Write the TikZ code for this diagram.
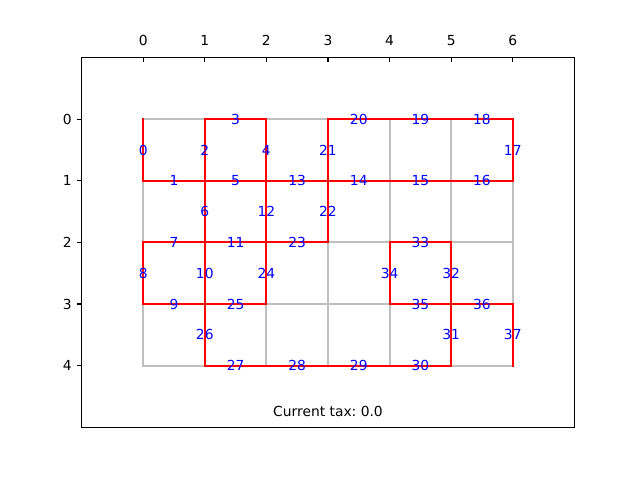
\documentclass[tikz,border=0pt]{standalone}
\usepackage{fontspec}
\setmainfont{DejaVu Sans}
\usetikzlibrary{calc}
\definecolor{silvergray}{HTML}{BFBFBF}
\begin{document}
\begin{tikzpicture}[
    x=0.616in, y=-0.616in,
    gridline/.style={draw=silvergray, line width=1.5pt, line cap=rect},
    cut/.style={draw=red, line width=1.5pt, line cap=rect},
    edgelabel/.style={text=blue, inner sep=0pt, font=\fontsize{10}{12}\selectfont},
    ticklabel/.style={inner sep=0pt, font=\fontsize{10}{12}\selectfont},
    spine/.style={draw=black, line width=0.8pt},
]
\useasboundingbox (-2.32468,-1.93506) rectangle (8.06494,5.85714);

% Grid points
\foreach \x in {0,...,6}{
  \foreach \y in {0,...,4}{
    \coordinate (p\x\y) at (\x,\y);
  }
}

% Background grid
\foreach \x in {0,...,6}{
  \draw[gridline] (p\x0) -- (p\x4);
}
\foreach \y in {0,...,4}{
  \draw[gridline] (p0\y) -- (p6\y);
}

% Cut edges with their numbers
\foreach \n/\a/\b in {0/00/01, 1/01/11, 2/10/11, 3/10/20, 4/20/21, 5/11/21,
    6/11/12, 7/02/12, 8/02/03, 9/03/13, 10/12/13, 11/12/22, 12/21/22,
    13/21/31, 14/31/41, 15/41/51, 16/51/61, 17/60/61, 18/50/60, 19/40/50,
    20/30/40, 21/30/31, 22/31/32, 23/22/32, 24/22/23, 25/13/23, 26/13/14,
    27/14/24, 28/24/34, 29/34/44, 30/44/54, 31/53/54, 32/52/53, 33/42/52,
    34/42/43, 35/43/53, 36/53/63, 37/63/64}{
  \draw[cut] (p\a) -- (p\b);
}
\foreach \n/\a/\b in {0/00/01, 1/01/11, 2/10/11, 3/10/20, 4/20/21, 5/11/21,
    6/11/12, 7/02/12, 8/02/03, 9/03/13, 10/12/13, 11/12/22, 12/21/22,
    13/21/31, 14/31/41, 15/41/51, 16/51/61, 17/60/61, 18/50/60, 19/40/50,
    20/30/40, 21/30/31, 22/31/32, 23/22/32, 24/22/23, 25/13/23, 26/13/14,
    27/14/24, 28/24/34, 29/34/44, 30/44/54, 31/53/54, 32/52/53, 33/42/52,
    34/42/43, 35/43/53, 36/53/63, 37/63/64}{
  \node[edgelabel] (l\n) at ($(p\a)!0.5!(p\b)$) {\n};
}

% Axes frame and ticks
\coordinate (frameNW) at (-1,-1);
\coordinate (frameSE) at (7,5);
\draw[spine] (frameNW) rectangle (frameSE);
\foreach \x in {0,...,6}{
  \coordinate (tx\x) at (\x,-1);
  \draw[spine] (tx\x) -- ++(0,-3.5pt);
  \node[ticklabel, anchor=base] (xt\x) at ([yshift=9pt]tx\x) {\x};
}
\foreach \y in {0,...,4}{
  \coordinate (ty\y) at (-1,\y);
  \draw[spine] (ty\y) -- ++(-3.5pt,0);
  \node[ticklabel, anchor=east] (yt\y) at ([xshift=-7pt]ty\y) {\y};
}

\node[ticklabel] (tax) at (3,4.74) {Current tax:\ 0.0};

\end{tikzpicture}
\end{document}
